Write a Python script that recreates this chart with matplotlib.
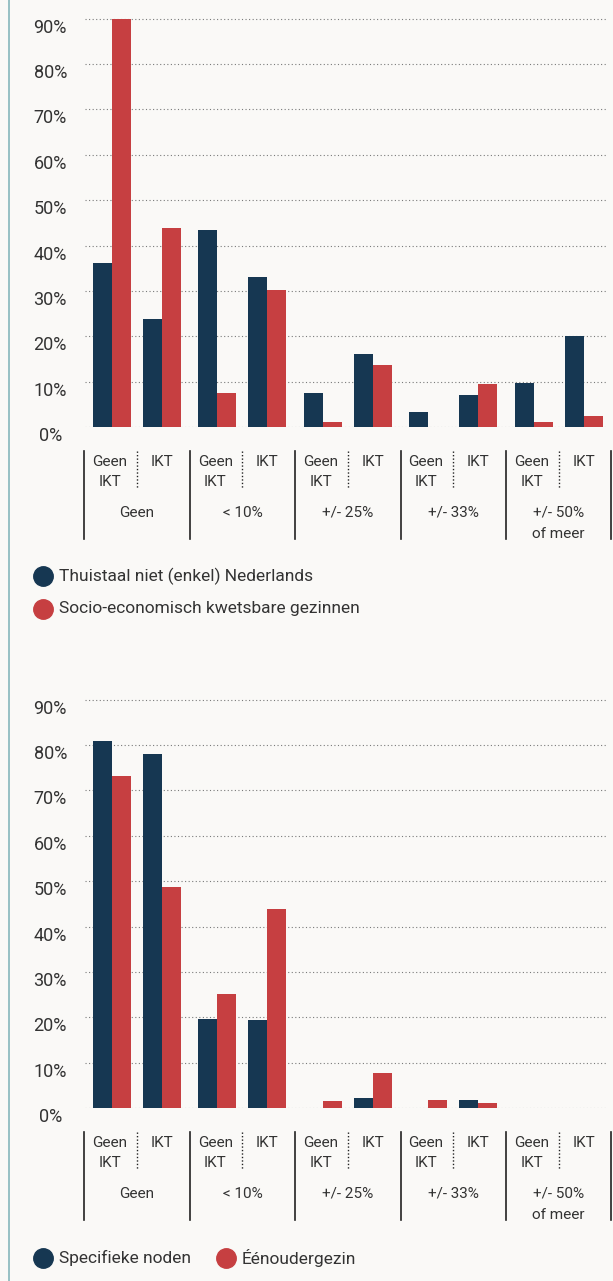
import matplotlib.pyplot as plt
from matplotlib.lines import Line2D

plt.rcParams['font.family'] = ['Roboto', 'DejaVu Sans']

W, H = 613, 1281
DPI = 100

NAVY = '#163752'
RED = '#c63f41'
TEXT = '#333333'
BG = '#faf9f7'

# data
groups = ['Geen', '< 10%', '+/- 25%', '+/- 33%', '+/- 50%\nof meer']
sub_labels = ['Geen\nIKT', 'IKT']
y_ticks = [0, 10, 20, 30, 40, 50, 60, 70, 80, 90]

top_navy = [36.1, 23.7, 43.5, 33.0, 7.4, 16.0, 3.2, 7.0, 9.6, 20.0]
top_red = [90.0, 43.8, 7.4, 30.3, 1.0, 13.6, 0.0, 9.4, 1.0, 2.4]
top_legend = ['Thuistaal niet (enkel) Nederlands', 'Socio-economisch kwetsbare gezinnen']

bot_navy = [81.0, 78.1, 19.6, 19.4, 0.0, 2.2, 0.0, 1.8, 0.0, 0.0]
bot_red = [73.3, 48.8, 25.2, 43.9, 1.5, 7.7, 1.8, 1.1, 0.0, 0.0]
bot_legend = ['Specifieke noden', 'Éénoudergezin']

# layout (pixels)
PPU = 4.536          # pixels per percent
YMAX = 93
AX_H = YMAX * PPU
GROUP_PX = 105.4
X0_PX = 137
LEFT_PX, RIGHT_PX = 85, 608
PAIR = 0.237
BW = 0.18


def make_chart(fig, zero_px, navy, red):
    ax = fig.add_axes([LEFT_PX / W, 1 - zero_px / H,
                       (RIGHT_PX - LEFT_PX) / W, AX_H / H])
    ax.set_facecolor('none')
    ax.set_xlim((LEFT_PX - X0_PX) / GROUP_PX, (RIGHT_PX - X0_PX) / GROUP_PX)
    ax.set_ylim(0, YMAX)

    pos = []
    for i in range(len(groups)):
        pos += [i - PAIR, i + PAIR]
    ax.bar([p - BW / 2 for p in pos], navy, width=BW, color=NAVY, zorder=3)
    ax.bar([p + BW / 2 for p in pos], red, width=BW, color=RED, zorder=3)

    ax.set_yticks(y_ticks)
    ax.set_yticklabels([f'{t}%' for t in y_ticks])
    ax.tick_params(axis='y', length=0, pad=25, labelsize=13, labelcolor=TEXT)
    for lab in ax.get_yticklabels():
        lab.set_horizontalalignment('center')
        lab.set_verticalalignment('top')
    ax.set_xticks([])
    ax.yaxis.grid(True, linestyle=(0, (1, 2.2)), color='#7a7a7a', lw=0.8)
    ax.set_axisbelow(True)
    for s in ax.spines.values():
        s.set_visible(False)

    tr = ax.get_xaxis_transform()

    def below(px):
        return -px / AX_H

    for i in range(len(groups) + 1):
        ax.plot([i - 0.5, i - 0.5], [below(24), below(112)], transform=tr,
                color='#222222', lw=1.2, clip_on=False)
    for i, g in enumerate(groups):
        ax.plot([i, i], [below(24), below(61)], transform=tr, color='#222222',
                lw=1.0, linestyle=(0, (1, 1.5)), clip_on=False)
        for j, sl in enumerate(sub_labels):
            for k, line in enumerate(sl.split('\n')):
                ax.text(pos[2 * i + j] - 0.02 * (1 - j), below(35 + 20 * k), line,
                        transform=tr, ha='center', va='center', fontsize=11,
                        color=TEXT)
        for k, line in enumerate(g.split('\n')):
            ax.text(i, below(86 + 21 * k), line, transform=tr, ha='center',
                    va='center', fontsize=11, color=TEXT)
    return ax


def legend_item(fig, x_px, y_px, color, label):
    fig.add_artist(Line2D([x_px / W], [1 - y_px / H], marker='o', markersize=14,
                          color=color, linestyle='none', transform=fig.transFigure))
    fig.text((x_px + 16) / W, 1 - y_px / H, label, ha='left', va='center',
             fontsize=12.5, color=TEXT)


fig = plt.figure(figsize=(W / DPI, H / DPI), dpi=DPI, facecolor=BG)

# thin teal rule on the left
fig.add_artist(Line2D([8.5 / W, 8.5 / W], [0, 1], color='#86b6bb', lw=1.2,
                      transform=fig.transFigure))

make_chart(fig, 427, top_navy, top_red)
legend_item(fig, 43, 576, NAVY, top_legend[0])
legend_item(fig, 43, 609, RED, top_legend[1])

make_chart(fig, 1108, bot_navy, bot_red)
legend_item(fig, 43, 1258, NAVY, bot_legend[0])
legend_item(fig, 226, 1258, RED, bot_legend[1])

fig.savefig('out.png', dpi=DPI, facecolor=BG)
